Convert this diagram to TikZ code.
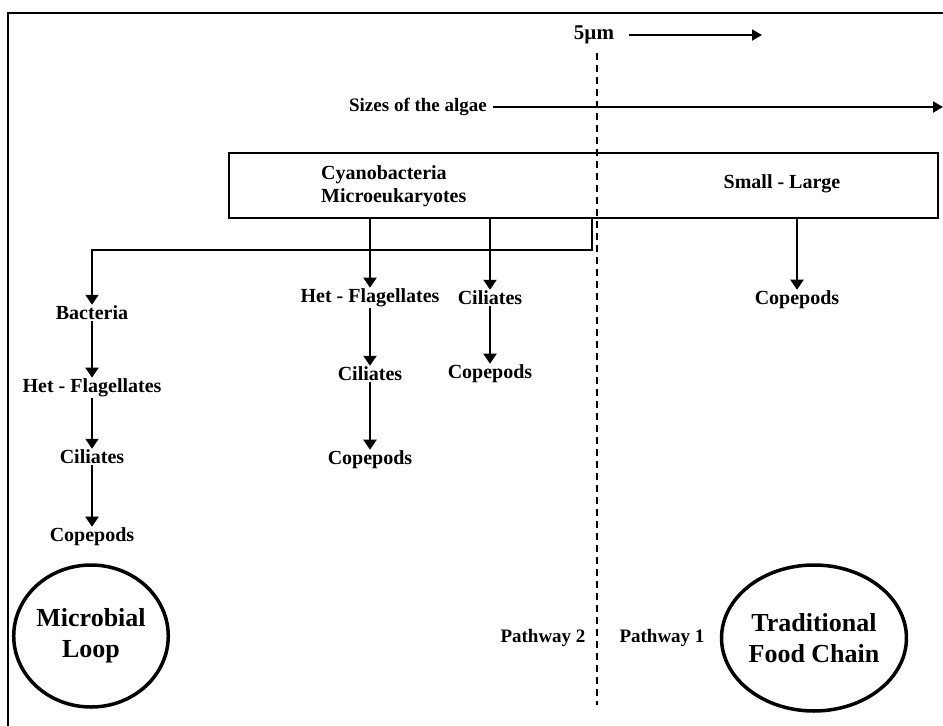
\documentclass[tikz,border=0pt]{standalone}
\usepackage{fontspec}
\setmainfont{Liberation Serif}
\usetikzlibrary{arrows.meta,shapes.geometric,calc}
\tikzset{
  lbl/.style={font=\fontsize{20}{23}\selectfont\bfseries, inner sep=1pt, align=center},
  plbl/.style={font=\fontsize{19}{22}\selectfont\bfseries, inner sep=1pt},
  big/.style={draw, ellipse, line width=3.5pt, inner sep=0pt, align=center,
              font=\fontsize{26}{31}\selectfont\bfseries},
  arr/.style={line width=2pt, -{Triangle[width=13pt,length=10pt]}},
  thin arr/.style={line width=2pt, -{Triangle[width=11pt,length=10pt]}},
  frame/.style={line width=2.5pt},
  boxst/.style={draw, line width=2.5pt, inner sep=0pt, minimum width=709pt, minimum height=65pt},
  divider/.style={line width=2.5pt, dash pattern=on 7pt off 5pt}
}
\begin{document}
\begin{tikzpicture}[x=1pt,y=-1pt]
\useasboundingbox (0,0) rectangle (943,726);
% frame
\draw[frame] (943,13) -- (8,13) -- (8,726);
% top labels
\node[lbl, font=\fontsize{21}{24}\selectfont\bfseries] (fivemu) at (594,35) {5µm};
\coordinate (fiveend) at (762,35);
\draw[thin arr, shorten <=14pt] (fivemu.east) -- (fiveend);
\node[lbl, font=\fontsize{19}{22}\selectfont\bfseries] (sizes) at (418,107) {Sizes of the algae};
\coordinate (sizesend) at (943,107);
\draw[thin arr, shorten <=5pt] (sizes.east) -- (sizesend);
% divider
\coordinate (dtop) at (597,53);
\coordinate (dbot) at (597,705);
\draw[divider] (dtop) -- (dbot);
% box
\node[boxst] (box) at (583.5,185.5) {};
\node[lbl, align=left, anchor=west] (cyano) at (320,186) {Cyanobacteria\\Microeukaryotes};
\node[lbl] (sl) at (782,184) {Small - Large};
% left column
\node[lbl] (bact) at (92,313) {Bacteria};
\node[lbl] (hf1) at (92,388) {Het - Flagellates};
\node[lbl] (ci1) at (92,457) {Ciliates};
\node[lbl] (co1) at (92,537) {Copepods};
% middle column
\node[lbl] (hf2) at (370,298) {Het - Flagellates};
\node[lbl] (ci2) at (370,374) {Ciliates};
\node[lbl] (co2) at (370,460) {Copepods};
% third column
\node[lbl] (ci3) at (490,298) {Ciliates};
\node[lbl] (co3) at (490,374) {Copepods};
% right
\node[lbl] (co4) at (797,300) {Copepods};
% connectors
\coordinate (tap) at (592,250);
\draw[arr] (box.south -| tap) -- (tap) -| (bact.north);
\draw[arr] (bact) -- (hf1);
\draw[arr] (hf1) -- (ci1);
\draw[arr] (ci1) -- (co1);
\draw[arr] (box.south -| hf2.north) -- (hf2.north);
\draw[arr] (hf2) -- (ci2);
\draw[arr] (ci2) -- (co2);
\draw[arr] (box.south -| ci3.north) -- (ci3.north);
\draw[arr] (ci3) -- (co3);
\draw[arr] (box.south -| co4.north) -- (co4.north);
% pathways
\node[plbl] (pw2) at (543,638) {Pathway 2};
\node[plbl] (pw1) at (662,638) {Pathway 1};
% circles
\node[big, minimum width=154pt, minimum height=142pt] (ml) at (91,636) {Microbial\\Loop};
\node[big, minimum width=164pt, minimum height=146pt] (tfc) at (814,638) {Traditional\\Food Chain};
\end{tikzpicture}
\end{document}
